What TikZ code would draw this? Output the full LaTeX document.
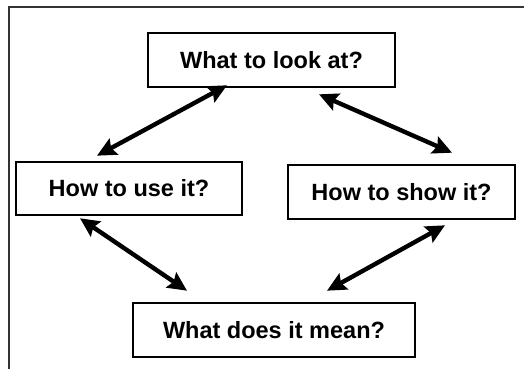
\documentclass[tikz,border=0pt]{standalone}
\usepackage{fontspec}
\setmainfont{Liberation Sans}
\usetikzlibrary{arrows.meta,calc}
\begin{document}
\begin{tikzpicture}[x=1pt,y=-1pt,
  qbox/.style={draw=black,line width=2.6pt,fill=white,inner sep=0pt,
    font=\fontsize{23.5}{27}\selectfont\bfseries,align=center},
  dblarrow/.style={line width=4.4pt,{Stealth[length=19pt,width=18pt,inset=3pt]}-{Stealth[length=19pt,width=18pt,inset=3pt]}},
  frameline/.style={draw=black!80,line width=1.2pt}]
\useasboundingbox (0,0) rectangle (524,369);
\draw[frameline] (9,369) -- (9,7) -- (524,7);
\node[qbox,minimum width=247pt,minimum height=54pt] (top) at (271.5,60) {What to look at?};
\node[qbox,minimum width=226pt,minimum height=53pt] (left) at (129,188.5) {How to use it?};
\node[qbox,minimum width=227pt,minimum height=54pt] (right) at (401.5,192) {How to show it?};
\node[qbox,minimum width=282pt,minimum height=54pt] (bottom) at (274,330) {What does it mean?};
\coordinate (a1) at ($(top.south)+(-44.5,-3)$);
\coordinate (a2) at ($(left.north)+(-32,-5)$);
\coordinate (b1) at ($(top.south)+(47.5,6)$);
\coordinate (b2) at ($(right.north)+(50.5,-11)$);
\coordinate (c1) at ($(left.south)+(-49,2)$);
\coordinate (c2) at ($(bottom.north)+(-87,-11)$);
\coordinate (d1) at ($(right.south)+(43.5,5)$);
\coordinate (d2) at ($(bottom.north)+(53,-11)$);
\draw[dblarrow] (a1) -- (a2);
\draw[dblarrow] (b1) -- (b2);
\draw[dblarrow] (c1) -- (c2);
\draw[dblarrow] (d1) -- (d2);
\end{tikzpicture}
\end{document}
